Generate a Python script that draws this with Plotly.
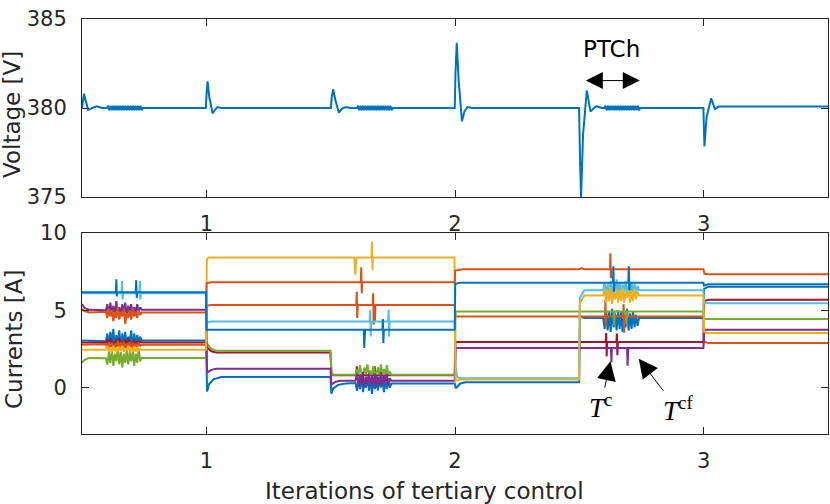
import plotly.graph_objects as go

# ---------------- data ----------------
# Voltage (V) vs tertiary-control iteration: transients plus three dense oscillation bands
vb1_x = [0.600, 0.605, 0.610, 0.615, 0.620, 0.625, 0.630, 0.635, 0.640, 0.645, 0.650, 0.655, 0.660, 0.665, 0.670,
         0.675, 0.680, 0.685, 0.690, 0.695, 0.700, 0.705, 0.710, 0.715, 0.720, 0.725, 0.730, 0.735, 0.740, 0.745]
vb2_x = [1.605, 1.610, 1.615, 1.620, 1.625, 1.630, 1.635, 1.640, 1.645, 1.650, 1.655, 1.660, 1.665, 1.670, 1.675,
         1.680, 1.685, 1.690, 1.695, 1.700, 1.705, 1.710, 1.715, 1.720, 1.725, 1.730, 1.735, 1.740, 1.745, 1.750]
vb3_x = [2.600, 2.605, 2.610, 2.615, 2.620, 2.625, 2.630, 2.635, 2.640, 2.645, 2.650, 2.655, 2.660, 2.665, 2.670,
         2.675, 2.680, 2.685, 2.690, 2.695, 2.700, 2.705, 2.710, 2.715, 2.720, 2.725, 2.730, 2.735, 2.740, 2.745]
vband_y = [380.0, 380.12, 379.88, 380.13, 379.87, 380.12, 379.88, 380.13, 379.87, 380.12, 379.88, 380.13, 379.87,
           380.12, 379.88, 380.13, 379.87, 380.12, 379.88, 380.13, 379.87, 380.12, 379.88, 380.13, 379.87, 380.12,
           379.88, 380.13, 379.87, 380.0]

volt_x = ([0.50, 0.505, 0.508, 0.515, 0.525, 0.54, 0.56, 0.58] + vb1_x +
          [0.998, 1.001, 1.005, 1.012, 1.025, 1.035, 1.045, 1.06,
           1.501, 1.504, 1.510, 1.518, 1.533, 1.545, 1.56, 1.58] + vb2_x +
          [1.999, 2.002, 2.007, 2.015, 2.028, 2.038, 2.05, 2.07,
           2.499, 2.503, 2.507, 2.515, 2.53, 2.545, 2.555, 2.57, 2.59] + vb3_x +
          [2.999, 3.001, 3.003, 3.012, 3.03, 3.045, 3.06, 3.50])
volt_y = ([380.0, 380.6, 380.8, 380.4, 379.9, 380.0, 380.1, 380.0] + vband_y +
          [380.0, 380.8, 381.5, 380.6, 379.7, 379.9, 380.05, 380.0,
           380.0, 380.6, 381.05, 380.5, 379.74, 379.95, 380.05, 380.0] + vband_y +
          [380.0, 382.0, 383.66, 381.5, 379.25, 379.8, 380.05, 380.0,
           380.0, 377.0, 375.0, 378.5, 380.99, 379.8, 379.95, 380.1, 380.0] + vband_y +
          [380.0, 379.0, 377.84, 379.5, 380.54, 379.95, 380.08, 380.08])

# x grids of the three oscillation bursts in the currents
B1 = [0.596, 0.602, 0.608, 0.614, 0.620, 0.626, 0.632, 0.638, 0.644, 0.650, 0.656, 0.662, 0.668,
      0.674, 0.680, 0.686, 0.692, 0.698, 0.704, 0.710, 0.716, 0.722, 0.728, 0.734, 0.740]
B2 = [1.600, 1.606, 1.612, 1.618, 1.624, 1.630, 1.636, 1.642, 1.648, 1.654, 1.660, 1.666, 1.672,
      1.678, 1.684, 1.690, 1.696, 1.702, 1.708, 1.714, 1.720, 1.726, 1.732, 1.738, 1.744]
B3 = [2.596, 2.602, 2.608, 2.614, 2.620, 2.626, 2.632, 2.638, 2.644, 2.650, 2.656, 2.662, 2.668,
      2.674, 2.680, 2.686, 2.692, 2.698, 2.704, 2.710, 2.716, 2.722, 2.728, 2.734, 2.740]

# Currents (A): one x/y list per converter
cur1_x = [0.50, 0.636, 0.638, 0.640, 0.642, 0.716, 0.718, 0.720, 0.722, 0.999, 1.001, 1.633, 1.635, 1.637, 1.639,
          1.708, 1.710, 1.712, 1.714, 1.999, 2.001, 2.02, 2.635, 2.637, 2.639, 2.641, 2.697, 2.699, 2.701, 2.703,
          2.999, 3.001, 3.02, 3.50]
cur1_y = [6.17, 6.17, 7.0, 5.9, 6.17, 6.17, 6.95, 5.8, 6.17, 6.17, 3.74, 3.74, 2.56, 3.3, 3.74,
          3.74, 4.43, 2.88, 3.74, 3.74, 6.70, 6.79, 6.79, 7.85, 6.2, 6.79, 6.79, 7.85, 6.3, 6.79,
          6.79, 6.60, 6.69, 6.69]

cur2_x = ([0.50, 0.51, 0.53] + B1 +
          [0.999, 1.001, 1.02, 1.621, 1.623, 1.625, 1.627, 1.999, 2.001, 2.03, 2.50, 2.51, 2.52,
           2.623, 2.625, 2.627, 2.629, 2.999, 3.003, 3.02, 3.50])
cur2_y = ([5.10, 4.95, 4.86] +
          [4.9, 4.5, 5.1, 4.6, 5.0, 4.3, 4.9, 4.5, 5.2, 4.4, 4.9, 4.6, 5.1, 4.1, 4.8, 4.5, 5.0, 4.4, 5.1, 4.6,
           4.9, 4.5, 5.0, 4.7, 4.86] +
          [4.86, 6.75, 6.82, 6.82, 7.79, 6.11, 6.82, 6.82, 7.57, 7.66, 7.66, 7.73, 7.66,
           7.66, 8.69, 7.08, 7.66, 7.66, 7.36, 7.33, 7.33])

cur3_x = ([0.50] + B1 +
          [0.999, 1.002, 1.01, 1.595, 1.599, 1.603, 1.607, 1.664, 1.666, 1.668, 1.670,
           1.998, 2.002, 2.02, 2.499, 2.502, 2.52] + B3 +
          [2.999, 3.002, 3.02, 3.50])
cur3_y = ([2.45] +
          [2.45, 2.7, 2.3, 2.6, 2.25, 2.7, 2.35, 2.6, 2.3, 2.65, 2.35, 2.7, 2.3, 2.55, 2.4, 2.7, 2.3, 2.6,
           2.35, 2.65, 2.3, 2.6, 2.4, 2.5, 2.45] +
          [2.45, 8.3, 8.42, 8.42, 7.3, 8.3, 8.42, 8.42, 9.44, 7.6, 8.42,
           8.42, 0.45, 0.52, 0.52, 5.46, 5.95] +
          [5.95, 6.4, 5.5, 6.3, 5.6, 6.5, 5.4, 6.2, 5.7, 6.4, 5.5, 6.3, 5.6, 6.5, 5.5, 6.2, 5.8, 6.4,
           5.5, 6.3, 5.6, 6.4, 5.7, 6.2, 5.95] +
          [5.95, 3.6, 3.53, 3.53])

cur4_x = ([0.50, 0.51, 0.53] + B1 +
          [0.999, 1.003, 1.02, 1.04, 1.499, 1.503, 1.52, 1.54] + B2 +
          [1.999, 2.002, 2.627, 2.629, 2.631, 2.692, 2.694, 2.697, 2.999, 3.003, 3.02, 3.50])
cur4_y = ([5.40, 5.15, 5.03] +
          [5.0, 5.4, 4.7, 5.5, 4.8, 5.3, 4.6, 5.6, 4.9, 5.2, 4.7, 5.4, 4.8, 5.5, 4.6, 5.3, 4.9, 5.4, 4.7,
           5.2, 4.8, 5.4, 4.9, 5.2, 5.03] +
          [5.03, 0.97, 1.15, 1.22, 1.22, 0.19, 0.38, 0.45] +
          [0.45, 0.9, 0.1, 0.8, 0.2, 1.0, 0.0, 0.7, 0.3, 0.9, 0.1, 0.8, 0.2, 0.9, 0.0, 0.7, 0.2, 1.0,
           0.1, 0.8, 0.3, 0.9, 0.1, 0.6, 0.45] +
          [0.45, 2.56, 2.56, 1.63, 2.56, 2.56, 1.42, 2.56, 2.56, 3.74, 3.74, 3.74])

cur5_x = ([0.50, 0.51, 0.53] + B1 +
          [0.999, 1.002, 1.02, 1.04, 1.499, 1.503, 1.51] + B2 +
          [1.999, 2.002, 2.638, 2.640, 2.642, 2.688, 2.690, 2.692, 2.999, 3.002, 3.02, 3.50])
cur5_y = ([1.60, 1.80, 1.92] +
          [1.9, 1.5, 2.3, 1.6, 2.4, 1.4, 2.2, 1.7, 2.5, 1.5, 2.3, 1.3, 2.2, 1.6, 2.4, 1.5, 2.3, 1.7, 2.4,
           1.4, 2.2, 1.6, 2.5, 1.7, 1.92] +
          [1.92, 2.88, 2.50, 2.39, 2.39, 1.0, 0.84] +
          [0.84, 1.2, 0.84, 1.45, 0.9, 0.84, 1.3, 0.84, 1.5, 0.84, 1.1, 0.84, 1.4, 0.84, 0.9, 1.3, 0.84,
           1.5, 0.84, 1.2, 0.84, 1.45, 0.84, 1.0, 0.84] +
          [0.84, 4.92, 4.92, 4.06, 4.92, 4.92, 4.1, 4.92, 4.92, 4.43, 4.43, 4.43])

cur6_x = ([0.50, 0.659, 0.661, 0.663, 0.665, 0.731, 0.733, 0.735, 0.737, 0.999, 1.002, 1.02,
           1.657, 1.659, 1.661, 1.663, 1.731, 1.733, 1.735, 1.737, 1.999, 2.003, 2.008, 2.02,
           2.499, 2.502, 2.52] + B3 + [2.999, 3.002, 3.02, 3.50])
cur6_y = ([6.10, 6.10, 6.9, 5.7, 6.10, 6.10, 6.9, 5.7, 6.10, 6.10, 4.20, 4.28,
           4.28, 5.03, 3.31, 4.28, 4.28, 5.03, 3.31, 4.28, 4.28, 1.3, 0.7, 0.6,
           0.6, 5.8, 6.3] +
          [6.3, 6.8, 6.0, 6.7, 6.1, 6.9, 6.0, 6.6, 6.2, 7.0, 6.1, 6.8, 6.0, 6.7, 6.2, 6.9, 6.1, 6.6,
           6.0, 6.8, 6.2, 6.7, 6.1, 6.6, 6.3] +
          [6.3, 5.5, 5.46, 5.46])

cur7_x = ([0.50] + B1 +
          [0.999, 1.003, 1.02, 1.04, 1.499, 1.503, 1.51,
           1.603, 1.605, 1.607, 1.675, 1.677, 1.679, 1.999, 2.002,
           2.606, 2.608, 2.610, 2.612, 2.649, 2.651, 2.653, 2.655, 2.999, 3.002, 3.02, 3.50])
cur7_y = ([2.92] +
          [2.9, 3.1, 2.6, 3.2, 2.7, 3.0, 2.5, 3.1, 2.8, 3.2, 2.6, 3.0, 2.7, 3.1, 2.6, 3.2, 2.8, 3.0, 2.6,
           3.1, 2.7, 3.0, 2.8, 3.0, 2.92] +
          [2.92, 2.6, 2.35, 2.27, 2.27, 1.0, 0.80,
           0.80, 1.37, 0.80, 0.80, 1.37, 0.80, 0.80, 2.95,
           2.95, 3.53, 2.02, 2.95, 2.95, 3.5, 2.1, 2.95, 2.95, 5.6, 5.68, 5.68])

cur8_x = ([0.50] + B1 +
          [0.999, 1.003, 1.01, 1.03, 1.06, 1.499, 1.503, 1.51, 1.53, 1.56] + B2 +
          [1.999, 2.003, 2.02, 2.04, 2.499, 2.503, 2.52] + B3 +
          [2.999, 3.002, 3.02, 3.50])
cur8_y = ([3.05] +
          [3.0, 3.5, 2.7, 3.6, 2.8, 3.8, 2.6, 3.4, 2.9, 3.7, 2.5, 3.5, 2.8, 3.6, 2.7, 3.3, 2.9, 3.7, 2.6,
           3.5, 2.8, 3.4, 2.9, 3.3, 3.05] +
          [3.05, -0.25, 0.2, 0.55, 0.69, 0.69, -0.4, -0.05, 0.18, 0.26] +
          [0.3, -0.2, 0.6, -0.1, 0.8, -0.3, 0.5, 0.0, 0.7, -0.2, 0.6, -0.4, 0.5, -0.1, 0.8, -0.2, 0.6, 0.0,
           0.7, -0.3, 0.5, -0.1, 0.6, 0.0, 0.26] +
          [0.26, -0.05, 0.25, 0.34, 0.34, 4.6, 4.5] +
          [4.5, 3.8, 5.0, 3.7, 4.9, 3.6, 5.1, 3.9, 4.8, 3.7, 5.0, 3.8, 4.9, 3.6, 4.7, 3.9, 5.1, 3.7, 4.8,
           3.8, 4.9, 3.9, 4.7, 4.0, 4.5] +
          [4.5, 6.4, 6.53, 6.53])

cur9_x = ([0.50] + B1 +
          [0.999, 1.002, 1.02, 1.603, 1.605, 1.607, 1.609, 1.669, 1.671, 1.673, 1.675, 1.678, 1.680,
           1.999, 2.002, 2.603, 2.605, 2.607, 2.609, 2.676, 2.678, 2.680, 2.682, 2.999, 3.002, 3.02, 3.50])
cur9_y = ([2.77] +
          [2.8, 2.5, 2.95, 2.6, 2.9, 2.45, 2.85, 2.6, 3.0, 2.55, 2.9, 2.6, 2.95, 2.5, 2.85, 2.65, 2.95,
           2.55, 2.9, 2.6, 2.85, 2.6, 2.9, 2.7, 2.77] +
          [2.77, 5.30, 5.35, 5.35, 6.2, 4.5, 5.35, 5.35, 6.1, 4.06, 5.35, 4.3, 5.35,
           5.35, 4.6, 4.6, 5.7, 3.9, 4.6, 4.6, 5.4, 3.55, 4.6, 4.6, 2.95, 2.88, 2.88])

x_ticks = [1, 2, 3]
volt_ticks = [375, 380, 385]
cur_ticks = [0, 5, 10]

# ---------------- figure ----------------
BLUE, ORANGE, YELLOW, PURPLE, GREEN, LBLUE, DRED = (
    "#0072BD", "#D95319", "#EDB120", "#7E2F8E", "#77AC30", "#4DBEEE", "#A2142F")
AX = "#262626"

fig = go.Figure()
fig.add_trace(go.Scatter(x=volt_x, y=volt_y, mode="lines", line=dict(color=BLUE, width=2),
                         xaxis="x", yaxis="y", showlegend=False))

currents = [
    (cur8_x, cur8_y, BLUE), (cur7_x, cur7_y, DRED), (cur9_x, cur9_y, ORANGE),
    (cur6_x, cur6_y, LBLUE), (cur5_x, cur5_y, GREEN), (cur4_x, cur4_y, PURPLE),
    (cur3_x, cur3_y, YELLOW), (cur2_x, cur2_y, ORANGE), (cur1_x, cur1_y, BLUE),
]
for cx, cy, col in currents:
    fig.add_trace(go.Scatter(x=cx, y=cy, mode="lines", line=dict(color=col, width=2),
                             xaxis="x2", yaxis="y2", showlegend=False))

W, H = 830, 504
L, R = 82, 828
font_tick = dict(family="DejaVu Sans", size=21, color=AX)

def xa(anchor):
    return dict(domain=[L / W, R / W], range=[0.5, 3.5], anchor=anchor, tickvals=x_ticks,
                ticks="inside", ticklen=7, tickcolor=AX, showline=True, linecolor=AX, linewidth=1,
                mirror="ticks", showgrid=False, zeroline=False, tickfont=font_tick,
                ticklabelstandoff=8, automargin=False)

def ya(anchor, dom, rng, tv):
    return dict(domain=dom, range=rng, anchor=anchor, tickvals=tv,
                ticks="inside", ticklen=7, tickcolor=AX, showline=True, linecolor=AX, linewidth=1,
                mirror="ticks", showgrid=False, zeroline=False, tickfont=font_tick,
                ticklabelstandoff=10, automargin=False)

top_dom = [(H - 197) / H, (H - 19) / H]
bot_dom = [(H - 434) / H, (H - 233) / H]

fig.update_layout(
    width=W, height=H, margin=dict(l=0, r=0, t=0, b=0, autoexpand=False),
    paper_bgcolor="white", plot_bgcolor="white",
    xaxis=xa("y"), yaxis=ya("x", top_dom, [375, 385], volt_ticks),
    xaxis2=xa("y2"), yaxis2=ya("x2", bot_dom, [-3, 10], cur_ticks),
    showlegend=False,
)

title_font = dict(family="DejaVu Sans", size=23, color=AX)
serif = dict(family="Liberation Serif", size=27, color="black")
ann = [
    dict(text="Voltage [V]", xref="paper", yref="paper", x=12 / W, y=(H - 115) / H,
         textangle=-90, showarrow=False, font=title_font, xanchor="center", yanchor="middle"),
    dict(text="Currents [A]", xref="paper", yref="paper", x=14 / W, y=(H - 340) / H,
         textangle=-90, showarrow=False, font=title_font, xanchor="center", yanchor="middle"),
    dict(text="Iterations of tertiary control", xref="paper", yref="paper", x=424 / W, y=(H - 491) / H,
         showarrow=False, font=title_font, xanchor="center", yanchor="middle"),
    dict(text="PTCh", xref="x", yref="y", x=2.63, y=383.3, showarrow=False,
         font=dict(family="DejaVu Sans", size=23, color="black")),
    dict(text="", xref="x", yref="y", x=2.743, y=381.54, ax=2.520, ay=381.54, axref="x", ayref="y",
         showarrow=True, arrowside="end+start", arrowhead=2, arrowsize=3.4, arrowwidth=1,
         arrowcolor="black"),
    dict(text="<i>T</i><sup>c</sup>", xref="x2", yref="y2", x=2.625, y=1.70, ax=2.586, ay=-1.2,
         axref="x2", ayref="y2", showarrow=True, arrowhead=2, arrowsize=3.8, arrowwidth=1,
         arrowcolor="black", font=serif),
    dict(text="<i>T</i><sup>cf</sup>", xref="x2", yref="y2", x=2.739, y=1.87, ax=2.895, ay=-1.40,
         axref="x2", ayref="y2", showarrow=True, arrowhead=2, arrowsize=3.8, arrowwidth=1,
         arrowcolor="black", font=serif),
]
fig.update_layout(annotations=ann)

fig.write_html("out.html", config={"displayModeBar": False},
               post_script="document.body.style.margin='0';document.body.style.overflow='hidden';")
